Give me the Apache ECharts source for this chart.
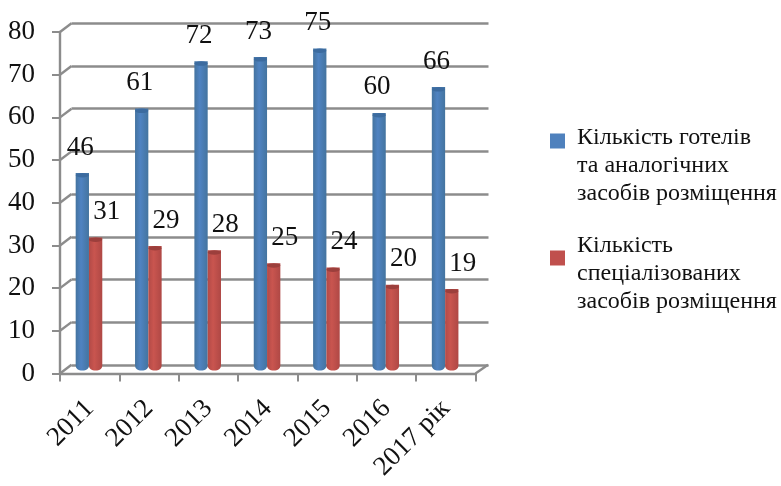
<!DOCTYPE html>
<html><head><meta charset="utf-8">
<style>html,body{margin:0;padding:0;background:#fff}#c{width:781px;height:486px}</style>
<script src="https://cdn.jsdelivr.net/npm/echarts@6/dist/echarts.min.js"></script>
</head><body><div id="c"></div>
<script>
const categories = ['2011','2012','2013','2014','2015','2016','2017 рік'];
const hotels = [46,61,72,73,75,60,66];
const specialized = [31,29,28,25,24,20,19];
const yTicks = [0,10,20,30,40,50,60,70,80];
const hotelsName = 'Кількість готелів\nта аналогічних\nзасобів розміщення';
const specName = 'Кількість\nспеціалізованих\nзасобів розміщення';

const FONT = '"Liberation Serif","Times New Roman",serif';
const GREY = '#8c8c8c';
const DX = 12.5, DY = -8.7;
const cyl = (a,b,c) => ({type:'linear',x:0,y:0,x2:1,y2:0,colorStops:[
  {offset:0,color:a},{offset:0.4,color:b},{offset:1,color:c}]});
const blue = cyl('#44739f','#4f83c2','#44749f');
const red = cyl('#b24a47','#c9554f','#af4845');

function barSeries(name,data,fill,dx){
  return {type:'bar',name,data,xAxisIndex:2,yAxisIndex:2,barWidth:13.3,barGap:0,z:3,
    itemStyle:{color:fill,borderRadius:[0,0,5,5]},
    label:{show:true,position:'top',distance:0,offset:[dx,-12],fontFamily:FONT,fontSize:27,color:'#111'}};
}
function capSeries(name,data,color){
  return {type:'pictorialBar',name:name+' ',data,xAxisIndex:2,yAxisIndex:2,barWidth:13.3,barGap:0,z:4,
    symbol:'circle',symbolSize:[13.3,4.5],symbolPosition:'end',itemStyle:{color}};
}
function legendFor(name,color,top,spacer){
  return {orient:'vertical',left:545,top,itemWidth:15,itemHeight:15,icon:'rect',selectedMode:false,
    data:[{name,itemStyle:{color}}],
    formatter:n=>'{e| }\n'+n.split('\n').map(s=>'{t|'+s+'}').join('\n'),
    textStyle:{fontFamily:FONT,rich:{
      e:{fontSize:10,lineHeight:spacer,fontFamily:FONT},
      t:{fontSize:24,lineHeight:28,fontFamily:FONT,color:'#111',padding:[0,0,0,7]}}}};
}
const hiddenCat = {type:'category',data:categories,show:false};
const option = {
  backgroundColor:'#fff',animation:false,
  grid:[
    {left:60,top:32,width:415.5,height:341.5},
    {left:71.5,top:23.3,width:417,height:341.7},
    {left:59.3,top:27,width:415.5,height:343.5}
  ],
  xAxis:[
    {type:'category',gridIndex:0,data:categories,boundaryGap:true,
      axisLine:{lineStyle:{color:GREY,width:2.4}},
      axisTick:{show:true,alignWithLabel:false,length:8,lineStyle:{color:GREY,width:2}},
      axisLabel:{rotate:45,interval:0,margin:31,fontFamily:FONT,fontSize:27,color:'#111'}},
    Object.assign({gridIndex:1},hiddenCat),
    Object.assign({gridIndex:2},hiddenCat)
  ],
  yAxis:[
    {type:'value',gridIndex:0,min:0,max:80,interval:10,
      axisLine:{show:true,lineStyle:{color:GREY,width:2.4}},
      axisTick:{show:true,length:8,lineStyle:{color:GREY,width:2}},
      axisLabel:{margin:25,padding:[5,0,0,0],fontFamily:FONT,fontSize:27,color:'#111'},splitLine:{show:false}},
    {type:'value',gridIndex:1,min:0,max:80,interval:10,
      axisLine:{show:false},axisTick:{show:false},axisLabel:{show:false},
      splitLine:{show:true,lineStyle:{color:GREY,width:2.6}}},
    {type:'value',gridIndex:2,min:0,max:80,interval:10,show:false,splitLine:{show:false}}
  ],
  legend:[
    legendFor(hotelsName,'#4f81bd',89,49),
    legendFor(specName,'#c0504d',206,32)
  ],
  series:[
    {type:'custom',xAxisIndex:0,yAxisIndex:0,z:1,silent:true,data:yTicks.map(v=>[0,v]),
      renderItem(params,api){
        const p=api.coord([0,api.value(1)]), hb=api.size([1,0])[0]/2, x=p[0]-hb;
        return {type:'line',shape:{x1:x,y1:p[1],x2:x+DX-1,y2:p[1]+DY},style:{stroke:GREY,lineWidth:2.4}};
      }},
    {type:'custom',xAxisIndex:0,yAxisIndex:0,z:1,silent:true,data:[[categories.length-1,0]],
      renderItem(params,api){
        const p=api.coord([api.value(0),api.value(1)]), hb=api.size([1,0])[0]/2, x=p[0]+hb;
        return {type:'line',shape:{x1:x,y1:p[1],x2:x+DX,y2:p[1]+DY},style:{stroke:GREY,lineWidth:2.4}};
      }},
    barSeries(hotelsName,hotels,blue,-2),
    barSeries(specName,specialized,red,11),
    capSeries(hotelsName,hotels,'#3c6b9f'),
    capSeries(specName,specialized,'#9c3f3c')
  ]
};
echarts.init(document.getElementById('c'),null,{renderer:'canvas'}).setOption(option);
</script></body></html>
